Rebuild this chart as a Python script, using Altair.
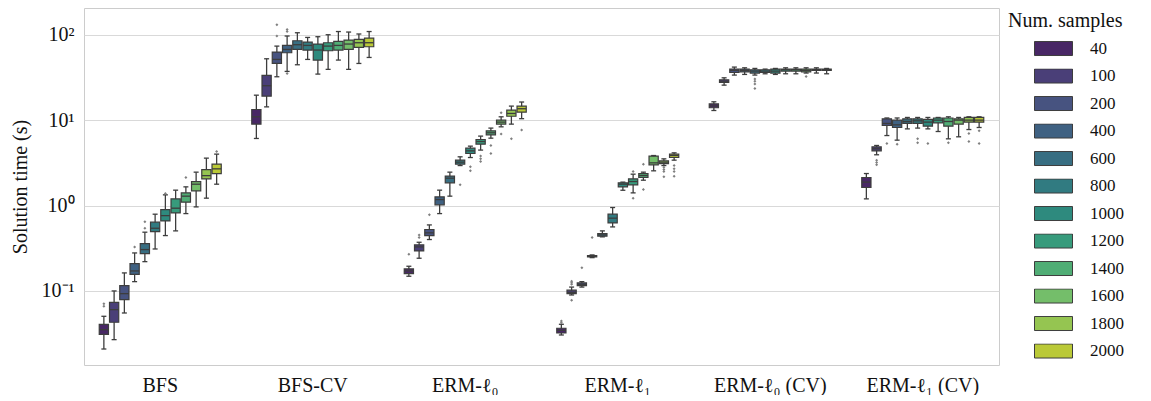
import altair as alt
import pandas as pd
import colorsys

methods = ["BFS", "BFS-CV", "ERM-ℓ₀", "ERM-ℓ₁", "ERM-ℓ₀ (CV)", "ERM-ℓ₁ (CV)"]
samples = [40, 100, 200, 400, 600, 800, 1000, 1200, 1400, 1600, 1800, 2000]

# box statistics per method, one value per sample size (whisker low, Q1, median, Q3, whisker high)
bfs_lo = [0.0209, 0.0269, 0.0552, 0.1285, 0.2203, 0.31, 0.445, 0.505, 0.805, 0.964, 1.22, 1.778]
bfs_q1 = [0.031, 0.043, 0.079, 0.1567, 0.2735, 0.495, 0.66, 0.82, 1.094, 1.486, 2.05, 2.37]
bfs_med = [0.0352, 0.0604, 0.093, 0.1714, 0.305, 0.542, 0.762, 0.931, 1.288, 1.778, 2.24, 2.69]
bfs_q3 = [0.0407, 0.0736, 0.1153, 0.209, 0.358, 0.638, 0.897, 1.197, 1.407, 1.91, 2.64, 3.05]
bfs_hi = [0.0505, 0.1, 0.1626, 0.2786, 0.4875, 0.792, 1.334, 1.514, 1.655, 2.46, 3.59, 4.0]

bfscv_lo = [6.1, 14.3, 32.2, 37.2, 44.5, 51.4, 34.6, 39.3, 50.5, 39.3, 46.1, 54.2]
bfscv_q1 = [8.98, 19.1, 46.1, 61.5, 67.3, 66.2, 50.5, 64.9, 66.2, 67.3, 71.0, 72.3]
bfscv_med = [10.94, 25.3, 51.4, 67.3, 76.4, 75.0, 66.2, 73.6, 75.0, 77.8, 80.6, 80.6]
bfscv_q3 = [13.33, 33.4, 62.7, 75.0, 85.0, 82.0, 77.8, 80.6, 83.6, 86.7, 88.1, 91.4]
bfscv_hi = [19.6, 52.3, 73.6, 96.6, 105.5, 93.0, 94.8, 100.0, 109.0, 107.5, 102.0, 109.0]

l0_lo = [0.1486, 0.2415, 0.40, 0.805, 1.288, 2.94, 3.65, 4.46, 6.15, 8.35, 8.98, 10.4]
l0_q1 = [0.1596, 0.294, 0.445, 1.02, 1.846, 3.05, 4.07, 5.23, 6.73, 8.98, 11.1, 12.4]
l0_med = [0.1714, 0.328, 0.479, 1.175, 2.09, 3.22, 4.37, 5.62, 7.11, 9.48, 11.97, 13.6]
l0_q3 = [0.181, 0.346, 0.524, 1.264, 2.21, 3.40, 4.70, 5.93, 7.5, 10.0, 13.1, 14.6]
l0_hi = [0.1946, 0.3715, 0.593, 1.514, 2.46, 3.72, 4.96, 6.5, 8.07, 10.94, 14.6, 16.3]

l1_lo = [0.0305, 0.0897, 0.111, 0.2455, 0.43, 0.562, 1.51, 1.407, 1.98, 2.55, 2.94, 3.40]
l1_q1 = [0.0322, 0.093, 0.1153, 0.25, 0.4375, 0.626, 1.655, 1.746, 2.13, 3.0, 3.1, 3.65]
l1_med = [0.0346, 0.0964, 0.1197, 0.2545, 0.453, 0.711, 1.778, 1.91, 2.24, 3.16, 3.22, 3.85]
l1_q3 = [0.0366, 0.102, 0.124, 0.2594, 0.47, 0.792, 1.846, 2.05, 2.37, 3.79, 3.34, 4.0]
l1_hi = [0.0407, 0.111, 0.1285, 0.264, 0.505, 0.948, 1.88, 2.33, 2.46, 3.85, 3.52, 4.14]

l0cv_lo = [12.97, 25.7, 33.7, 34.3, 33.7, 34.9, 34.3, 34.9, 34.9, 35.6, 35.6, 34.9]
l0cv_q1 = [13.97, 27.6, 36.1, 36.8, 35.6, 36.1, 35.6, 37.5, 37.5, 36.8, 38.2, 38.2]
l0cv_med = [14.7, 28.6, 38.2, 38.2, 37.5, 37.5, 37.5, 38.9, 38.9, 38.2, 38.9, 38.9]
l0cv_q3 = [15.5, 29.7, 39.6, 39.6, 38.9, 38.9, 39.6, 39.6, 39.6, 39.6, 39.6, 39.6]
l0cv_hi = [16.4, 31.3, 41.8, 41.0, 40.3, 39.6, 40.3, 41.0, 41.0, 41.0, 41.0, 40.3]

l1cv_lo = [1.197, 3.93, 6.6, 5.83, 7.9, 8.07, 7.9, 7.36, 6.04, 6.38, 7.76, 8.2]
l1cv_q1 = [1.626, 4.37, 8.65, 8.2, 9.14, 9.14, 8.5, 9.3, 8.5, 8.98, 9.48, 9.48]
l1cv_med = [1.88, 4.62, 9.14, 8.81, 9.64, 9.82, 9.48, 10.0, 9.64, 10.0, 10.0, 10.0]
l1cv_q3 = [2.13, 4.87, 10.37, 10.0, 10.37, 10.37, 10.19, 10.6, 10.6, 10.37, 10.75, 10.75]
l1cv_hi = [2.37, 5.05, 10.6, 10.6, 10.75, 10.75, 10.75, 10.75, 10.94, 10.75, 10.94, 10.94]

# outliers (method index, sample size, value)
flier_method = [0, 0, 0, 0, 0, 0, 0, 0,
                1, 1, 1, 1, 1,
                2, 2, 2, 2, 2, 2, 2, 2, 2, 2, 2, 2, 2, 2, 2, 2,
                3, 3, 3, 3, 3, 3, 3, 3, 3, 3, 3, 3, 3, 3, 3, 3, 3, 3, 3, 3,
                4, 4, 4, 4, 4,
                5, 5, 5, 5, 5, 5, 5, 5, 5, 5, 5, 5, 5]
flier_n = [40, 40, 400, 600, 600, 1000, 1400, 2000,
           200, 200, 400, 400, 400,
           40, 100, 100, 200, 800, 1000, 1000, 1200, 1200, 1200, 1400, 1400, 1600, 1600, 1800, 2000,
           40, 40, 100, 100, 100, 100, 200, 400, 1200, 1200, 1400, 1400, 1800, 1800, 1800, 1800, 2000, 2000, 2000, 2000,
           600, 600, 600, 600, 1600,
           100, 100, 100, 200, 400, 800, 800, 1000, 1400, 1800, 1800, 2000, 2000]
flier_value = [0.071, 0.066, 0.328, 0.648, 0.542, 1.38, 2.13, 4.3,
               131.0, 96.6, 115.0, 109.0, 35.2,
               0.269, 0.453, 0.422, 0.778, 1.746, 2.84, 2.55, 3.79, 3.52, 3.27, 5.05, 4.07, 12.2, 6.86, 6.04, 7.64,
               0.0445, 0.0425, 0.13, 0.125, 0.12, 0.078, 0.1875, 0.422, 2.5, 1.22, 3.05, 1.54, 2.8, 2.65, 2.5, 2.17, 2.94, 2.7, 2.5, 2.21,
               30.3, 28.5, 26.5, 23.5, 32.5,
               3.4, 3.2, 3.0, 5.33, 5.23, 6.04, 5.42, 5.33, 5.42, 6.97, 5.62, 7.5, 5.33]

stats = [
    (bfs_lo, bfs_q1, bfs_med, bfs_q3, bfs_hi),
    (bfscv_lo, bfscv_q1, bfscv_med, bfscv_q3, bfscv_hi),
    (l0_lo, l0_q1, l0_med, l0_q3, l0_hi),
    (l1_lo, l1_q1, l1_med, l1_q3, l1_hi),
    (l0cv_lo, l0cv_q1, l0cv_med, l0cv_q3, l0cv_hi),
    (l1cv_lo, l1cv_q1, l1cv_med, l1cv_q3, l1cv_hi),
]

rows = []
for m, (lo, q1, med, q3, hi) in zip(methods, stats):
    for i, n in enumerate(samples):
        rows.append({"method": m, "n": n, "lo": lo[i], "q1": q1[i], "med": med[i], "q3": q3[i], "hi": hi[i]})
box_df = pd.DataFrame(rows)
flier_df = pd.DataFrame({
    "method": [methods[i] for i in flier_method],
    "n": flier_n,
    "value": flier_value,
})

# viridis palette desaturated (seaborn style)
viridis_base = ["#481d6f", "#453581", "#3d4d8a", "#34618d", "#2c748e", "#24878e",
                "#1f998a", "#26ac82", "#40bd72", "#69cc5c", "#98d83e", "#cde11f"]


def desat(hx, f=0.75):
    r, g, b = (int(hx[i:i + 2], 16) / 255 for i in (1, 3, 5))
    h, l, s = colorsys.rgb_to_hls(r, g, b)
    r, g, b = colorsys.hls_to_rgb(h, l, s * f)
    return "#%02x%02x%02x" % (round(r * 255), round(g * 255), round(b * 255))


palette = [desat(c) for c in viridis_base]

FONT = "Liberation Serif"
LINE = "#3d3d3d"
W, H = 915, 357

x_enc = alt.X("method:N", sort=methods, title=None,
              scale=alt.Scale(paddingInner=0.2, paddingOuter=0.1),
              axis=alt.Axis(labelAngle=0, ticks=False, domain=False, grid=False,
                            labelFontSize=20, labelFont=FONT, labelPadding=10, labelColor="#111"))
xo_enc = alt.XOffset("n:O", sort=samples, scale=alt.Scale(paddingInner=0.1, paddingOuter=0.0))
y_scale = alt.Scale(type="log", domain=[0.01358, 205.6], nice=False)
y_axis = alt.Axis(values=[0.1, 1, 10, 100], grid=True, ticks=False, domain=False,
                  labelExpr="datum.value == 100 ? '10²' : datum.value == 10 ? '10¹' : datum.value == 1 ? '10⁰' : '10⁻¹'",
                  labelFontSize=20, labelFont=FONT, labelPadding=10, labelColor="#111",
                  title="Solution time (s)", titleFont=FONT, titleFontSize=20,
                  titleFontWeight="normal", titleColor="#111", titlePadding=11,
                  gridColor="#d9d9d9", gridWidth=1)

legend = alt.Legend(
    title="Num. samples", orient="none", legendX=W + 9, legendY=3, padding=0,
    titleFont=FONT, titleFontSize=20, titleFontWeight="normal", titleColor="#111",
    titlePadding=10,
    labelFont=FONT, labelFontSize=17, labelColor="#111", labelOffset=17,
    symbolType="M-1,-0.37L1,-0.37L1,0.37L-1,0.37Z", symbolSize=1444,
    symbolStrokeColor=LINE, symbolStrokeWidth=1, symbolOpacity=1,
    symbolOffset=26, clipHeight=15, rowPadding=9.5,
)

base = alt.Chart(box_df)

whiskers = base.mark_rule(color=LINE, strokeWidth=1.3).encode(
    x=x_enc, xOffset=xo_enc,
    y=alt.Y("lo:Q", scale=y_scale, axis=y_axis),
    y2="hi:Q",
)

boxes = base.mark_bar(stroke=LINE, strokeWidth=1.2).encode(
    x=x_enc, xOffset=xo_enc,
    y=alt.Y("q1:Q", scale=y_scale, axis=y_axis),
    y2="q3:Q",
    fill=alt.Fill("n:O", sort=samples,
                  scale=alt.Scale(domain=samples, range=palette),
                  legend=legend),
)

medians = base.mark_tick(color=LINE, thickness=1.3, size=9, opacity=1).encode(
    x=x_enc, xOffset=xo_enc, y=alt.Y("med:Q", scale=y_scale, axis=y_axis),
)
caps_lo = base.mark_tick(color=LINE, thickness=1.3, size=5, opacity=1).encode(
    x=x_enc, xOffset=xo_enc, y=alt.Y("lo:Q", scale=y_scale, axis=y_axis),
)
caps_hi = base.mark_tick(color=LINE, thickness=1.3, size=5, opacity=1).encode(
    x=x_enc, xOffset=xo_enc, y=alt.Y("hi:Q", scale=y_scale, axis=y_axis),
)

fliers = alt.Chart(flier_df).mark_point(shape="diamond", filled=True, size=9,
                                        color="#808080", opacity=1).encode(
    x=x_enc, xOffset=xo_enc, y=alt.Y("value:Q", scale=y_scale, axis=y_axis),
)

chart = alt.layer(whiskers, boxes, medians, caps_lo, caps_hi, fliers).properties(
    width=W, height=H,
    padding={"left": 2, "top": 0, "right": 0, "bottom": 0},
    background="white",
).configure_view(
    stroke="#cccccc", strokeWidth=1
)

chart.save("out.html", embed_options={"renderer": "svg", "actions": False})
